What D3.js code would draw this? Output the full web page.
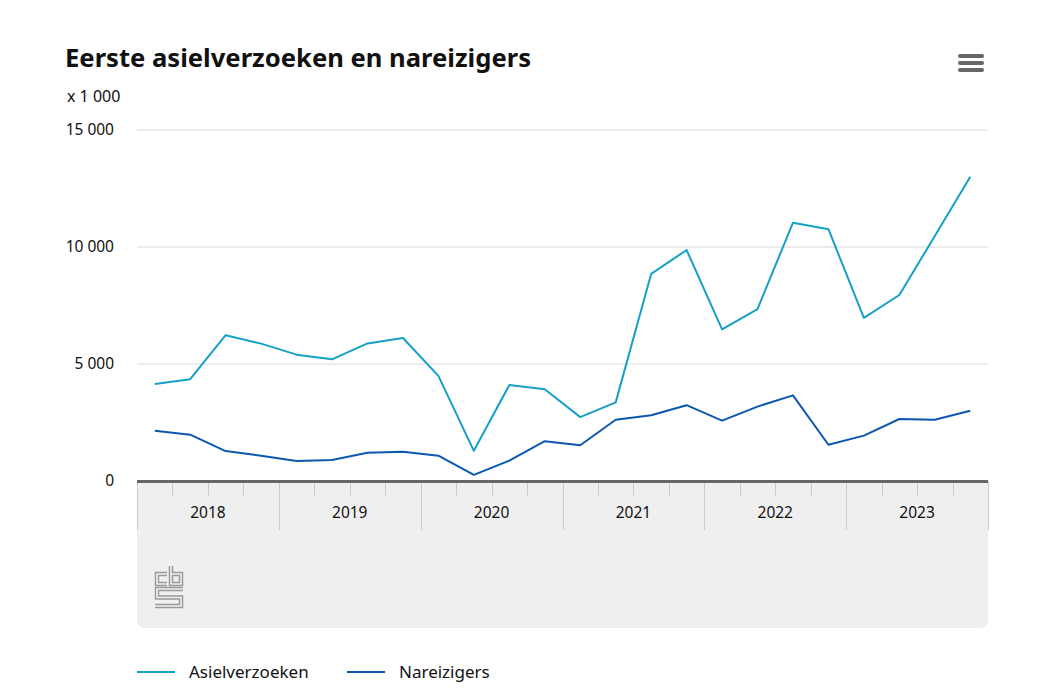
<!DOCTYPE html>
<html><head><meta charset="utf-8">
<script src="https://cdn.jsdelivr.net/npm/d3@7"></script>
<style>
html,body{margin:0;padding:0;background:#fff;}
svg{display:block;font-family:"Noto Sans",sans-serif;}
</style></head>
<body>
<svg id="chart" width="1037" height="692"></svg>
<script>
const years = ["2018","2019","2020","2021","2022","2023"];
const quarters = ["1e kwartaal","2e kwartaal","3e kwartaal","4e kwartaal"];
const asielverzoeken = [4150,4350,6230,5870,5400,5200,5880,6110,4490,1290,4100,3920,2730,3360,8850,9870,6480,7350,11040,10760,6970,7950,10470,13000];
const nareizigers = [2150,1980,1280,1080,850,900,1210,1250,1080,260,870,1700,1530,2620,2810,3240,2580,3180,3660,1550,1940,2650,2620,3000];
const yTicks = [0,5000,10000,15000];
const seriesNames = ["Asielverzoeken","Nareizigers"];
const colors = ["#16a0c6","#0c58b0"];

const svg = d3.select("#chart");
const L = 137, R = 988, T = 130, B = 481;
const periods = [];
years.forEach(y => quarters.forEach(q => periods.push(y + " " + q)));

const x = d3.scaleBand().domain(periods).range([L, R]);
const xYear = d3.scaleBand().domain(years).range([L, R]);
const y = d3.scaleLinear().domain([0, 15000]).range([B, T]);

// title
svg.append("text").attr("x", 65).attr("y", 67).attr("font-size", 25.5).attr("font-weight", 700)
  .attr("fill", "#111").attr("textLength", 466).attr("lengthAdjust", "spacingAndGlyphs")
  .text("Eerste asielverzoeken en nareizigers");
svg.append("text").attr("x", 67).attr("y", 102).attr("font-size", 16).attr("fill", "#111").text("x 1 000");

// menu icon
[0, 1, 2].forEach(i => svg.append("line").attr("x1", 960).attr("x2", 982)
  .attr("y1", 56 + i * 7).attr("y2", 56 + i * 7).attr("stroke", "#666")
  .attr("stroke-width", 4).attr("stroke-linecap", "round"));

// bottom grey panel
svg.append("path").attr("fill", "#efefef")
  .attr("d", `M${L},${B} H${R} V${628 - 8} Q${R},628 ${R - 8},628 H${L + 8} Q${L},628 ${L},${620} Z`);

// gridlines
const fmt = d => d3.format(",")(d).replace(/,/g, " ");
svg.append("g").selectAll("line").data(yTicks.filter(d => d > 0)).join("line")
  .attr("x1", L).attr("x2", R).attr("y1", d => y(d)).attr("y2", d => y(d))
  .attr("stroke", "#d9d9d9").attr("stroke-width", 1);
svg.append("g").selectAll("text").data(yTicks).join("text")
  .attr("x", 114).attr("y", d => y(d)).attr("dy", "0.35em").attr("text-anchor", "end")
  .attr("font-size", 15.5).attr("fill", "#111").text(fmt);

// year separators and quarter ticks
svg.append("g").selectAll("line").data(years.concat(["end"])).join("line")
  .attr("x1", (d, i) => Math.round(i < years.length ? xYear(d) : R) + 0.5)
  .attr("x2", (d, i) => Math.round(i < years.length ? xYear(d) : R) + 0.5)
  .attr("y1", B).attr("y2", 530).attr("stroke", "#cccccc").attr("stroke-width", 1);
svg.append("g").selectAll("line").data(periods.filter((p, i) => i % 4 !== 0)).join("line")
  .attr("x1", d => Math.round(x(d)) + 0.5).attr("x2", d => Math.round(x(d)) + 0.5)
  .attr("y1", B).attr("y2", 496).attr("stroke", "#cccccc").attr("stroke-width", 1);
svg.append("g").selectAll("text").data(years).join("text")
  .attr("x", d => xYear(d) + xYear.bandwidth() / 2).attr("y", 518).attr("text-anchor", "middle")
  .attr("font-size", 15.5).attr("fill", "#111").text(d => d);

// axis line
svg.append("line").attr("x1", L).attr("x2", R).attr("y1", B + 0.5).attr("y2", B + 0.5)
  .attr("stroke", "#666").attr("stroke-width", 3);

// lines
const line = d3.line().x((d, i) => x(periods[i]) + x.bandwidth() / 2).y(d => y(d));
[asielverzoeken, nareizigers].forEach((s, k) => {
  svg.append("path").datum(s).attr("d", line).attr("fill", "none")
    .attr("stroke", colors[k]).attr("stroke-width", 2).attr("stroke-linejoin", "round");
});

// cbs logo (double-line letters)
const logo = svg.append("g");
const logoPaths = [
  "M167,574 H157 V584 H167",
  "M171,566 V584 H181 V574 H171",
  "M183,589 H157 V597.5 H181 V606 H155"
];
logoPaths.forEach(p => {
  logo.append("path").attr("d", p).attr("fill", "none").attr("stroke", "#9a9a9a").attr("stroke-width", 4.5);
  logo.append("path").attr("d", p).attr("fill", "none").attr("stroke", "#efefef").attr("stroke-width", 1.6);
});

// legend
const legendX = [137, 347];
seriesNames.forEach((n, k) => {
  svg.append("line").attr("x1", legendX[k]).attr("x2", legendX[k] + 38).attr("y1", 672).attr("y2", 672)
    .attr("stroke", colors[k]).attr("stroke-width", 2);
  svg.append("text").attr("x", legendX[k] + 52).attr("y", 672).attr("dy", "0.35em")
    .attr("font-size", 17).attr("fill", "#111").text(n);
});
</script>
</body></html>
